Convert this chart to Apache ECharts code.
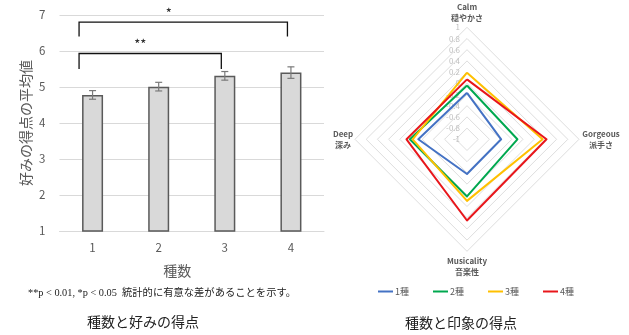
<!DOCTYPE html>
<html>
<head>
<meta charset="utf-8">
<script src="https://cdn.jsdelivr.net/npm/echarts@6/dist/echarts.min.js"></script>
<style>
  html, body { margin: 0; padding: 0; background: #fff; }
  #chart { width: 629px; height: 335px; }
</style>
</head>
<body>
<div id="chart"></div>
<script>
// Left panel: mean preference score by number of species (with standard errors)
const speciesCounts = ['1', '2', '3', '4'];
const meanScores = [4.78, 5.01, 5.31, 5.40];
const scoreErrors = [0.12, 0.12, 0.12, 0.16];

// Significance brackets: from / to category index, bracket height, foot height, marker
const bracketFrom = [0, 0];
const bracketTo = [3, 2];
const bracketTop = [6.8, 5.93];
const bracketFoot = [6.4, 5.5];
const bracketMarks = ['*', '**'];

// Right panel: impression scores, axes in drawing order (top, left, bottom, right)
const impressionNames = ['Calm\n穏やかさ', 'Deep\n深み', 'Musicality\n音楽性', 'Gorgeous\n派手さ'];
const seriesNames = ['1種', '2種', '3種', '4種'];
const oneSpecies = [-0.17, -0.13, -0.38, -0.39];
const twoSpecies = [-0.04, 0.02, 0.02, -0.10];
const threeSpecies = [0.19, -0.03, 0.10, 0.35];
const fourSpecies = [0.07, 0.08, 0.45, 0.42];

const lineColors = ['#4472c4', '#00a84f', '#ffc000', '#e8161b'];
const radarSeries = [oneSpecies, twoSpecies, threeSpecies, fourSpecies];

const FONT = '"Noto Sans CJK JP", "Noto Sans", sans-serif';
const chart = echarts.init(document.getElementById('chart'), null, { renderer: 'canvas' });

// Horizontal nudges for the indicator names (rich padding, px)
const namePad = { 'Calm': 0, 'Deep': 6, 'Musicality': 0, 'Gorgeous': 14 };

const option = {
  animation: false,
  backgroundColor: '#fff',
  textStyle: { fontFamily: FONT },
  grid: { left: 59.5, right: 305, top: 15, bottom: 104 },
  xAxis: {
    type: 'category',
    data: speciesCounts,
    name: '種数',
    nameLocation: 'middle',
    nameGap: 33,
    nameTextStyle: { fontSize: 14, color: '#595959', padding: [0, 29, 0, 0] },
    axisLine: { lineStyle: { color: '#d9d9d9', width: 1 } },
    axisTick: { show: false },
    axisLabel: { color: '#595959', fontSize: 11.5, margin: 11 }
  },
  yAxis: {
    type: 'value',
    min: 1,
    max: 7,
    interval: 1,
    name: '好みの得点の平均値',
    nameLocation: 'middle',
    nameRotate: 90,
    nameGap: 27,
    nameTextStyle: { fontSize: 14, color: '#595959' },
    axisLine: { show: false },
    axisTick: { show: false },
    axisLabel: { color: '#595959', fontSize: 11.5, margin: 14 },
    splitLine: { lineStyle: { color: '#d9d9d9', width: 1 } }
  },
  radar: {
    center: [467, 139.3],
    radius: 112,
    startAngle: 90,
    shape: 'polygon',
    splitNumber: 10,
    nameGap: 15,
    indicator: impressionNames.map((n, i) => {
      const ind = { name: n, min: -1, max: 1 };
      if (i === 0) ind.axisLabel = { show: true };
      return ind;
    }),
    axisName: {
      color: '#595959',
      fontSize: 8,
      fontWeight: 'bold',
      align: 'center',
      verticalAlign: 'middle',
      formatter: function (name) {
        const lines = name.split('\n');
        const key = 'p' + namePad[lines[0]];
        return lines.map(l => '{' + key + '|' + l + '}').join('\n');
      },
      rich: {
        p0: { fontSize: 8, fontWeight: 'bold', color: '#595959', lineHeight: 11, padding: [0, 0, 0, 0] },
        p6: { fontSize: 8, fontWeight: 'bold', color: '#595959', lineHeight: 11, padding: [0, 0, 0, 6] },
        p14: { fontSize: 8, fontWeight: 'bold', color: '#595959', lineHeight: 11, padding: [0, 0, 0, 14] }
      }
    },
    axisLine: { show: false },
    axisTick: { show: false },
    axisLabel: { show: false, color: '#bfbfbf', fontSize: 8, margin: 4, align: 'right', padding: [0, 3, 0, 0] },
    splitLine: { lineStyle: { color: '#dedede', width: 1 } },
    splitArea: { show: false }
  },
  legend: {
    data: seriesNames,
    left: 373,
    top: 282,
    icon: 'rect',
    itemWidth: 15,
    itemHeight: 2,
    itemGap: 24,
    textStyle: { fontSize: 9, color: '#595959', padding: [0, 0, 0, -3] }
  },
  graphic: [
    {
      type: 'text', x: 162, y: 293,
      style: {
        text: '**p < 0.01, *p < 0.05  統計的に有意な差があることを示す。',
        font: '10.3px "Liberation Serif", "Noto Sans CJK JP", serif',
        fill: '#222', align: 'center', verticalAlign: 'middle'
      }
    },
    {
      type: 'text', x: 143, y: 322,
      style: { text: '種数と好みの得点', font: '14px ' + FONT, fill: '#222', align: 'center', verticalAlign: 'middle' }
    },
    {
      type: 'text', x: 461, y: 323,
      style: { text: '種数と印象の得点', font: '14px ' + FONT, fill: '#222', align: 'center', verticalAlign: 'middle' }
    }
  ],
  series: [
    {
      type: 'bar',
      data: meanScores,
      barWidth: 21,
      itemStyle: { color: '#d9d9d9', borderColor: '#5a5a5a', borderWidth: 1.5 },
      z: 2
    },
    {
      // error bars: mean ± standard error
      type: 'custom',
      data: meanScores.map((m, i) => [i, m - scoreErrors[i], m + scoreErrors[i]]),
      encode: { x: 0, y: [1, 2] },
      z: 5,
      renderItem: function (params, api) {
        const c = api.value(0);
        const lo = api.coord([c, api.value(1)]);
        const hi = api.coord([c, api.value(2)]);
        const hw = 3.5;
        const st = { stroke: '#7a7a7a', lineWidth: 1.2 };
        return {
          type: 'group',
          children: [
            { type: 'line', shape: { x1: lo[0], y1: lo[1], x2: hi[0], y2: hi[1] }, style: st },
            { type: 'line', shape: { x1: lo[0] - hw, y1: lo[1], x2: lo[0] + hw, y2: lo[1] }, style: st },
            { type: 'line', shape: { x1: hi[0] - hw, y1: hi[1], x2: hi[0] + hw, y2: hi[1] }, style: st }
          ]
        };
      }
    },
    {
      // significance brackets
      type: 'custom',
      data: bracketMarks.map((m, i) => [bracketFrom[i], bracketTo[i], bracketTop[i], bracketFoot[i]]),
      encode: { x: [0, 1], y: [2, 3] },
      z: 6,
      renderItem: function (params, api) {
        const i = params.dataIndex;
        const a = api.coord([api.value(0), api.value(2)]);
        const b = api.coord([api.value(1), api.value(3)]);
        const lx = a[0] - 13.5;
        const rx = b[0] - 3.5;
        const ty = a[1];
        const fy = b[1];
        const mx = (lx + rx) / 2 - 0.07 * (rx - lx);
        return {
          type: 'group',
          children: [
            {
              type: 'polyline',
              shape: { points: [[lx, fy], [lx, ty], [rx, ty], [rx, fy]] },
              style: { stroke: '#111', lineWidth: 1.3, fill: null }
            },
            {
              type: 'text',
              x: mx, y: ty - 9,
              style: { text: bracketMarks[i], font: '13px ' + FONT, fill: '#222', align: 'center', verticalAlign: 'middle' }
            }
          ]
        };
      }
    },
    {
      type: 'radar',
      symbol: 'none',
      data: radarSeries.map((v, i) => ({
        name: seriesNames[i],
        value: v,
        lineStyle: { color: lineColors[i], width: 2 },
        itemStyle: { color: lineColors[i] }
      }))
    }
  ]
};

chart.setOption(option);
</script>
</body>
</html>
